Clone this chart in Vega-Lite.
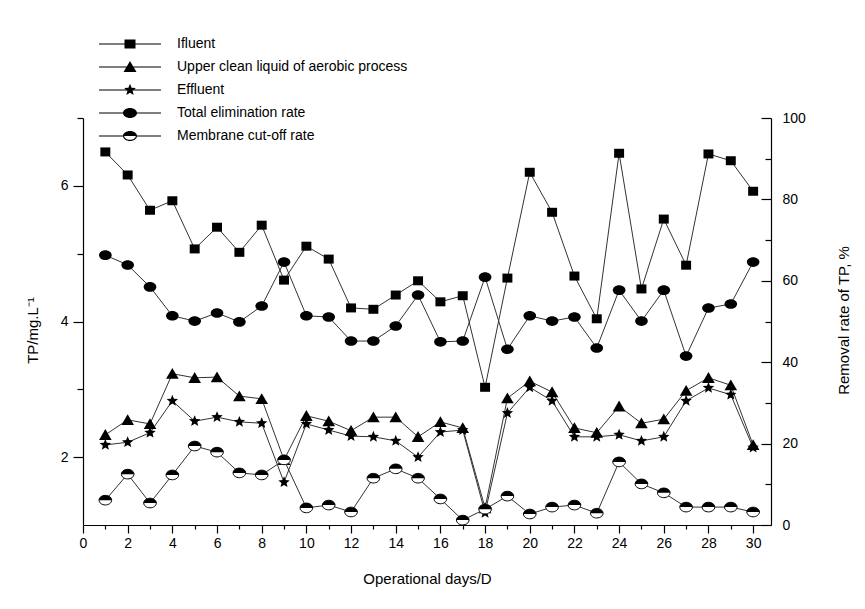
{
  "$schema": "https://vega.github.io/schema/vega-lite/v6.json",
  "autosize": "none",
  "width": 688,
  "height": 407,
  "padding": {"left": 83, "top": 118, "right": 94, "bottom": 84},
  "config": {
    "view": {"stroke": null},
    "font": "Liberation Sans",
    "axis": {
      "grid": false,
      "labelFont": "Liberation Sans",
      "labelFontSize": 14,
      "labelColor": "#000",
      "titleFont": "Liberation Sans",
      "titleFontSize": 15,
      "titleFontWeight": "normal",
      "titleColor": "#000",
      "domainColor": "#000",
      "domainWidth": 1.2,
      "tickColor": "#000",
      "tickWidth": 1.2
    }
  },
  "datasets": {
    "tp": [
      {"day": 1, "Ifluent": 6.50, "Upper clean liquid of aerobic process": 2.33, "Effluent": 2.18, "Total elimination rate": 66.3, "Membrane cut-off rate": 6.1},
      {"day": 2, "Ifluent": 6.16, "Upper clean liquid of aerobic process": 2.55, "Effluent": 2.22, "Total elimination rate": 63.9, "Membrane cut-off rate": 12.5},
      {"day": 3, "Ifluent": 5.64, "Upper clean liquid of aerobic process": 2.49, "Effluent": 2.36, "Total elimination rate": 58.5, "Membrane cut-off rate": 5.4},
      {"day": 4, "Ifluent": 5.78, "Upper clean liquid of aerobic process": 3.23, "Effluent": 2.83, "Total elimination rate": 51.4, "Membrane cut-off rate": 12.3},
      {"day": 5, "Ifluent": 5.07, "Upper clean liquid of aerobic process": 3.17, "Effluent": 2.53, "Total elimination rate": 50.1, "Membrane cut-off rate": 19.4},
      {"day": 6, "Ifluent": 5.39, "Upper clean liquid of aerobic process": 3.18, "Effluent": 2.59, "Total elimination rate": 52.1, "Membrane cut-off rate": 17.9},
      {"day": 7, "Ifluent": 5.02, "Upper clean liquid of aerobic process": 2.90, "Effluent": 2.52, "Total elimination rate": 49.9, "Membrane cut-off rate": 12.8},
      {"day": 8, "Ifluent": 5.42, "Upper clean liquid of aerobic process": 2.86, "Effluent": 2.50, "Total elimination rate": 53.8, "Membrane cut-off rate": 12.3},
      {"day": 9, "Ifluent": 4.61, "Upper clean liquid of aerobic process": 1.96, "Effluent": 1.63, "Total elimination rate": 64.6, "Membrane cut-off rate": 16.0},
      {"day": 10, "Ifluent": 5.11, "Upper clean liquid of aerobic process": 2.61, "Effluent": 2.49, "Total elimination rate": 51.4, "Membrane cut-off rate": 4.2},
      {"day": 11, "Ifluent": 4.92, "Upper clean liquid of aerobic process": 2.53, "Effluent": 2.40, "Total elimination rate": 51.1, "Membrane cut-off rate": 4.9},
      {"day": 12, "Ifluent": 4.20, "Upper clean liquid of aerobic process": 2.39, "Effluent": 2.31, "Total elimination rate": 45.2, "Membrane cut-off rate": 3.2},
      {"day": 13, "Ifluent": 4.18, "Upper clean liquid of aerobic process": 2.59, "Effluent": 2.30, "Total elimination rate": 45.2, "Membrane cut-off rate": 11.5},
      {"day": 14, "Ifluent": 4.39, "Upper clean liquid of aerobic process": 2.59, "Effluent": 2.24, "Total elimination rate": 48.9, "Membrane cut-off rate": 13.8},
      {"day": 15, "Ifluent": 4.60, "Upper clean liquid of aerobic process": 2.30, "Effluent": 2.00, "Total elimination rate": 56.5, "Membrane cut-off rate": 11.5},
      {"day": 16, "Ifluent": 4.29, "Upper clean liquid of aerobic process": 2.52, "Effluent": 2.37, "Total elimination rate": 45.0, "Membrane cut-off rate": 6.4},
      {"day": 17, "Ifluent": 4.38, "Upper clean liquid of aerobic process": 2.43, "Effluent": 2.40, "Total elimination rate": 45.2, "Membrane cut-off rate": 1.2},
      {"day": 18, "Ifluent": 3.03, "Upper clean liquid of aerobic process": 1.25, "Effluent": 1.18, "Total elimination rate": 60.9, "Membrane cut-off rate": 3.9},
      {"day": 19, "Ifluent": 4.64, "Upper clean liquid of aerobic process": 2.87, "Effluent": 2.65, "Total elimination rate": 43.2, "Membrane cut-off rate": 7.1},
      {"day": 20, "Ifluent": 6.20, "Upper clean liquid of aerobic process": 3.12, "Effluent": 3.03, "Total elimination rate": 51.4, "Membrane cut-off rate": 2.7},
      {"day": 21, "Ifluent": 5.61, "Upper clean liquid of aerobic process": 2.96, "Effluent": 2.83, "Total elimination rate": 50.1, "Membrane cut-off rate": 4.4},
      {"day": 22, "Ifluent": 4.67, "Upper clean liquid of aerobic process": 2.43, "Effluent": 2.30, "Total elimination rate": 51.1, "Membrane cut-off rate": 4.9},
      {"day": 23, "Ifluent": 4.04, "Upper clean liquid of aerobic process": 2.36, "Effluent": 2.30, "Total elimination rate": 43.5, "Membrane cut-off rate": 2.9},
      {"day": 24, "Ifluent": 6.48, "Upper clean liquid of aerobic process": 2.75, "Effluent": 2.33, "Total elimination rate": 57.7, "Membrane cut-off rate": 15.5},
      {"day": 25, "Ifluent": 4.48, "Upper clean liquid of aerobic process": 2.50, "Effluent": 2.24, "Total elimination rate": 50.1, "Membrane cut-off rate": 10.1},
      {"day": 26, "Ifluent": 5.51, "Upper clean liquid of aerobic process": 2.56, "Effluent": 2.30, "Total elimination rate": 57.7, "Membrane cut-off rate": 7.9},
      {"day": 27, "Ifluent": 4.83, "Upper clean liquid of aerobic process": 2.98, "Effluent": 2.83, "Total elimination rate": 41.5, "Membrane cut-off rate": 4.4},
      {"day": 28, "Ifluent": 6.47, "Upper clean liquid of aerobic process": 3.17, "Effluent": 3.02, "Total elimination rate": 53.3, "Membrane cut-off rate": 4.4},
      {"day": 29, "Ifluent": 6.37, "Upper clean liquid of aerobic process": 3.06, "Effluent": 2.92, "Total elimination rate": 54.3, "Membrane cut-off rate": 4.4},
      {"day": 30, "Ifluent": 5.92, "Upper clean liquid of aerobic process": 2.18, "Effluent": 2.14, "Total elimination rate": 64.6, "Membrane cut-off rate": 3.2}
    ]
  },
  "data": {"name": "tp"},
  "transform": [
    {"fold": ["Ifluent", "Upper clean liquid of aerobic process", "Effluent", "Total elimination rate", "Membrane cut-off rate"], "as": ["series", "value"]}
  ],
  "encoding": {
    "x": {
      "field": "day",
      "type": "quantitative",
      "scale": {"domain": [0, 30.8], "nice": false, "zero": false},
      "axis": {
        "values": [0,1,2,3,4,5,6,7,8,9,10,11,12,13,14,15,16,17,18,19,20,21,22,23,24,25,26,27,28,29,30],
        "labelExpr": "datum.value % 2 === 0 ? datum.label : ''",
        "tickSize": {"condition": {"test": "datum.value % 2 === 0", "value": 8}, "value": 4},
        "labelPadding": 3,
        "labelFlush": false,
        "title": "Operational days/D",
        "titleY": 53,
        "titleBaseline": "middle"
      }
    }
  },
  "layer": [
    {
      "transform": [{"filter": {"field": "series", "oneOf": ["Ifluent", "Upper clean liquid of aerobic process", "Effluent"]}}],
      "encoding": {
        "y": {
          "field": "value",
          "type": "quantitative",
          "scale": {"domain": [1, 7], "nice": false, "zero": false},
          "axis": {
            "orient": "left",
            "values": [2, 3, 4, 5, 6, 7],
            "labelExpr": "datum.value % 2 === 0 ? datum.label : ''",
            "tickSize": {"condition": {"test": "datum.value % 2 === 0", "value": 10}, "value": 6},
            "labelPadding": 5,
            "title": "TP/mg.L⁻¹",
            "titleX": -51,
            "titleY": 212,
            "titleBaseline": "middle"
          }
        }
      },
      "layer": [
        {"mark": {"type": "line", "stroke": "#333", "strokeWidth": 1}, "encoding": {"detail": {"field": "series"}}},
        {
          "mark": {"type": "point", "filled": true, "opacity": 1, "fill": "#000", "strokeWidth": 0, "size": 144},
          "encoding": {
            "shape": {
              "field": "series",
              "scale": {
                "domain": ["Ifluent", "Upper clean liquid of aerobic process", "Effluent"],
                "range": [
                  "M-0.83,-0.75H0.83V0.75H-0.83Z",
                  "M0,-0.95L1.05,0.85H-1.05Z",
                  "M0,-1L0.26,-0.36L0.951,-0.309L0.42,0.137L0.588,0.809L0,0.44L-0.588,0.809L-0.42,0.137L-0.951,-0.309L-0.26,-0.36Z"
                ]
              },
              "legend": null
            }
          }
        },
        {
          "transform": [{"filter": "datum.day == 1"}],
          "mark": {"type": "point", "filled": true, "opacity": 1, "color": "#000", "size": 0},
          "encoding": {
            "shape": {
              "field": "series",
              "scale": {
                "domain": ["Ifluent", "Upper clean liquid of aerobic process", "Effluent", "Total elimination rate", "Membrane cut-off rate"],
                "range": [
                  "M-3.1,-0.06H3.1V0.06H-3.1Z M-0.55,-0.45H0.55V0.45H-0.55Z",
                  "M-3.1,-0.06H3.1V0.06H-3.1Z M0,-0.6L0.65,0.5H-0.65Z",
                  "M-3.1,-0.06H3.1V0.06H-3.1Z M0,-0.62L0.161,-0.223L0.59,-0.192L0.26,0.085L0.365,0.502L0,0.273L-0.365,0.502L-0.26,0.085L-0.59,-0.192L-0.161,-0.223Z",
                  "M-3.1,-0.06H3.1V0.06H-3.1Z M-0.7,0A0.7,0.5 0 1 1 0.7,0A0.7,0.5 0 1 1 -0.7,0Z",
                  "M-3.1,-0.06H-0.7V0.06H-3.1Z M0.7,-0.06H3.1V0.06H0.7Z M-0.7,0A0.7,0.5 0 0 1 0.7,0Z M0.7,0A0.7,0.5 0 0 1 -0.7,0L-0.58,0A0.58,0.38 0 0 0 0.58,0Z"
                ]
              },
              "legend": {
                "title": null,
                "orient": "none",
                "legendX": 37,
                "legendY": -84,
                "symbolSize": 400,
                "symbolStrokeWidth": 0,
                "symbolFillColor": "#000",
                "symbolOpacity": 1,
                "labelOffset": 37,
                "rowPadding": 6,
                "labelFont": "Liberation Sans",
                "labelFontSize": 14,
                "labelColor": "#000",
                "labelLimit": 700
              }
            }
          }
        }
      ],
      "resolve": {"scale": {"shape": "independent"}}
    },
    {
      "transform": [{"filter": {"field": "series", "oneOf": ["Total elimination rate", "Membrane cut-off rate"]}}],
      "encoding": {
        "y": {
          "field": "value",
          "type": "quantitative",
          "scale": {"domain": [0, 100], "nice": false, "zero": false},
          "axis": {
            "orient": "right",
            "values": [0, 10, 20, 30, 40, 50, 60, 70, 80, 90, 100],
            "labelExpr": "datum.value % 20 === 0 ? datum.label : ''",
            "tickSize": {"condition": {"test": "datum.value % 20 === 0", "value": -10}, "value": -6},
            "labelPadding": 21,
            "title": "Removal rate of TP, %",
            "titleAngle": 270,
            "titleX": 72,
            "titleY": 202,
            "titleBaseline": "middle"
          }
        }
      },
      "layer": [
        {"mark": {"type": "line", "stroke": "#333", "strokeWidth": 1}, "encoding": {"detail": {"field": "series"}}},
        {
          "transform": [{"filter": "datum.series === 'Membrane cut-off rate'"}],
          "mark": {"type": "point", "filled": true, "opacity": 1, "fill": "#fff", "stroke": "#000", "strokeWidth": 1, "size": 144, "shape": "M-1.05,0A1.05,0.8 0 1 1 1.05,0A1.05,0.8 0 1 1 -1.05,0Z"}
        },
        {
          "mark": {"type": "point", "filled": true, "opacity": 1, "fill": "#000", "strokeWidth": 0, "size": 144},
          "encoding": {
            "shape": {
              "field": "series",
              "scale": {
                "domain": ["Total elimination rate", "Membrane cut-off rate"],
                "range": [
                  "M-1.05,0A1.05,0.8 0 1 1 1.05,0A1.05,0.8 0 1 1 -1.05,0Z",
                  "M-1.05,0A1.05,0.8 0 0 1 1.05,0Z"
                ]
              },
              "legend": null
            }
          }
        }
      ]
    }
  ],
  "resolve": {"scale": {"y": "independent", "shape": "independent"}}
}
